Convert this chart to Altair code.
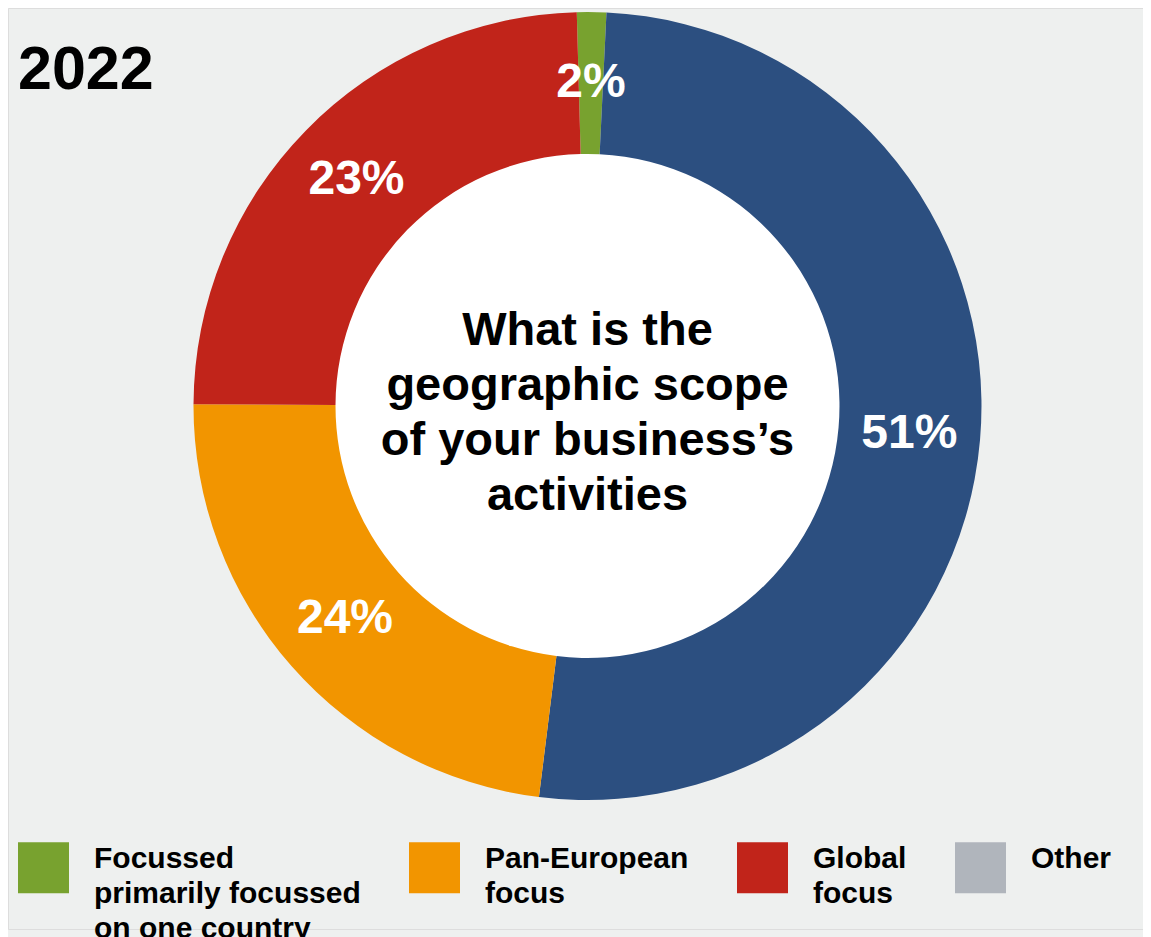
import math
import altair as alt
import pandas as pd

# ---- data ----
categories = ["Focussed primarily focussed on one country", "National markets",
              "Pan-European focus", "Global focus"]
shares = [1.2, 51.2, 23.1, 24.5]           # angular share of each slice (%)
labels = ["2%", "51%", "24%", "23%"]        # printed labels
colors = ["#78a22f", "#2c4f80", "#f29500", "#c1241a"]

legend_names = ["Focussed primarily focussed on one country", "Pan-European focus",
                "Global focus", "Other"]
legend_colors = ["#78a22f", "#f29500", "#c1241a", "#b0b5bc"]
legend_lines = [["Focussed", "primarily focussed", "on one country"],
                ["Pan-European", "focus", ""], ["Global", "focus", ""], ["Other", "", ""]]

year_title = "2022"
center_text = ["What is the", "geographic scope", "of your business\u2019s", "activities"]

# ---- build table ----
df = pd.DataFrame({"category": categories, "share": shares,
                   "label": labels, "order": list(range(len(categories)))})

W, H = 1135, 921
CX, CY = 579.5, 398
R_OUT, R_IN = 394, 252
start = math.radians(-1.56)
FONT = "Liberation Sans"

dom = legend_names + ["National markets"]
rng = legend_colors + [colors[1]]

def expr_list(lines):
    return "[" + ",".join("'" + s + "'" for s in lines) + "]"

label_expr = ""
for name, lines in zip(legend_names, legend_lines):
    label_expr += f"datum.label == '{name}' ? {expr_list(lines)} : "
label_expr += "datum.label"

theta = alt.Theta("share:Q", stack=True,
                  scale=alt.Scale(range=[start, start + 2 * math.pi]))

base = alt.Chart(df)

white_disc = alt.Chart(pd.DataFrame({"a": [1]})).mark_arc(
    radius=R_IN + 1, theta=0, theta2=2 * math.pi, color="white", stroke=None
).encode(x=alt.value(CX), y=alt.value(CY))

donut = base.mark_arc(outerRadius=R_OUT, innerRadius=R_IN, stroke=None).encode(
    theta=theta,
    order=alt.Order("order:Q"),
    x=alt.value(CX), y=alt.value(CY),
    color=alt.Color("category:N",
                    scale=alt.Scale(domain=dom, range=rng),
                    legend=alt.Legend(
                        values=legend_names, title=None, orient="none",
                        legendX=10, legendY=834, direction="horizontal",
                        columns=4, symbolType="square", symbolSize=2601,
                        symbolStrokeWidth=0, symbolOpacity=1,
                        labelOffset=25, columnPadding=48, padding=0,
                        labelFont=FONT, labelFontSize=30, labelFontWeight="bold",
                        labelColor="black", labelLimit=600,
                        labelBaseline="alphabetic",
                        labelExpr=label_expr)),
)

pct = base.mark_text(radius=(R_OUT + R_IN) / 2, font=FONT, fontSize=48,
                     fontWeight="bold", color="white", align="center",
                     baseline="middle").encode(
    theta=theta, order=alt.Order("order:Q"),
    x=alt.value(CX), y=alt.value(CY),
    text="label:N",
)

center = alt.Chart(pd.DataFrame({"t": [center_text]})).mark_text(
    font=FONT, fontSize=47, fontWeight="bold", color="black",
    align="center", baseline="alphabetic", lineHeight=55
).encode(x=alt.value(CX), y=alt.value(337), text="t")

title = alt.Chart(pd.DataFrame({"t": [year_title]})).mark_text(
    font=FONT, fontSize=61, fontWeight="bold", color="black",
    align="left", baseline="alphabetic"
).encode(x=alt.value(10), y=alt.value(81), text="t:N")

chart = alt.layer(white_disc, donut, pct, center, title).properties(
    width=W, height=H, padding=0, background="#eef0ef"
).configure_view(stroke=None).configure(
    style={"guide-label": {"lineHeight": 35}}
)

chart.save("out.html", embed_options={"renderer": "svg", "actions": False})
